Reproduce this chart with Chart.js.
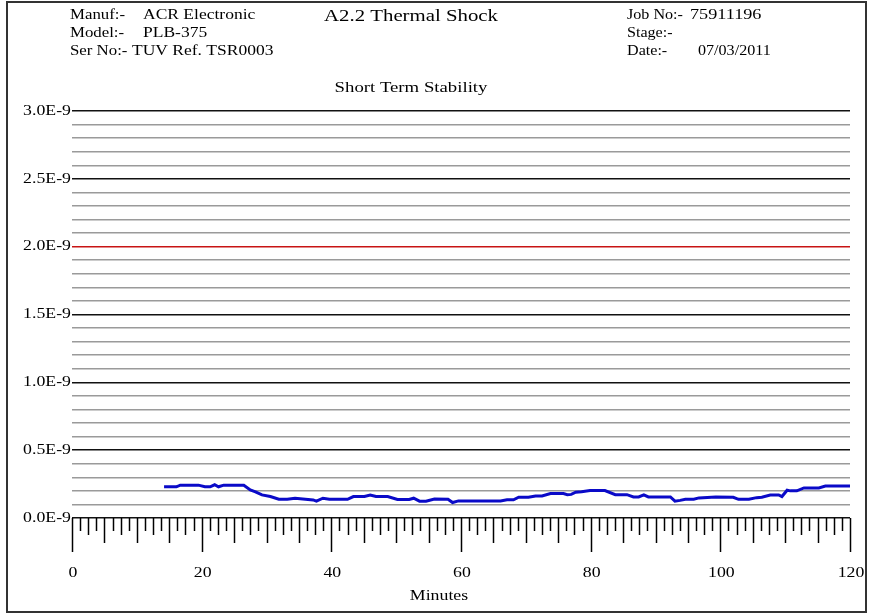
<!DOCTYPE html>
<html>
<head>
<meta charset="utf-8">
<script src="https://cdn.jsdelivr.net/npm/chart.js@4/dist/chart.umd.min.js"></script>
<style>
  html, body { margin: 0; padding: 0; background: #fff; }
  #wrap { width: 874px; height: 614px; }
</style>
</head>
<body>
<div id="wrap"><canvas id="chart" width="874" height="614"></canvas></div>
<script>
// minutes along the run and stability values (in units of 1E-9)
const minutes = [14.2, 16.1, 16.7, 19.5, 20.5, 21.3, 22.0, 22.6, 23.4, 26.5, 27.5, 28.3, 29.3, 30.6, 31.9, 33.2,
  34.4, 37.2, 37.7, 38.7, 39.7, 42.5, 43.4, 45.1, 46.0, 46.9, 48.7, 50.2, 52.0, 52.7, 53.6, 54.6, 55.9, 58.0,
  58.7, 59.6, 66.1, 67.1, 68.1, 68.9, 70.4, 71.5, 72.5, 73.8, 75.8, 76.4, 77.0, 77.7, 78.6, 79.9, 82.2, 83.8,
  85.6, 86.6, 87.4, 88.2, 88.9, 92.3, 93.0, 93.8, 94.6, 95.9, 96.7, 99.3, 102.0, 102.8, 104.4, 105.6, 106.4,
  107.7, 109.0, 109.5, 110.3, 110.8, 111.8, 112.9, 115.2, 116.2, 120];
const stability = [0.23, 0.23, 0.242, 0.242, 0.23, 0.23, 0.245, 0.23, 0.242, 0.242, 0.207, 0.193, 0.17, 0.158, 0.138, 0.138,
  0.145, 0.133, 0.124, 0.146, 0.138, 0.138, 0.158, 0.158, 0.17, 0.158, 0.158, 0.136, 0.136, 0.146, 0.124, 0.124, 0.14, 0.138,
  0.114, 0.126, 0.126, 0.134, 0.134, 0.153, 0.153, 0.162, 0.162, 0.18, 0.18, 0.172, 0.174, 0.19, 0.193, 0.202, 0.202, 0.172,
  0.172, 0.155, 0.155, 0.17, 0.155, 0.155, 0.124, 0.13, 0.138, 0.138, 0.148, 0.155, 0.153, 0.138, 0.138, 0.15, 0.153,
  0.17, 0.17, 0.158, 0.205, 0.2, 0.2, 0.222, 0.222, 0.235, 0.235];

const xLabels = [0, 20, 40, 60, 80, 100, 120];
const yLabels = ["0.0E-9", "0.5E-9", "1.0E-9", "1.5E-9", "2.0E-9", "2.5E-9", "3.0E-9"];
const limitLine = 2.0;

const headerLeft = [["Manuf:-", "ACR Electronic"], ["Model:-", "PLB-375"], ["Ser No:-", "TUV Ref. TSR0003"]];
const headerRight = [["Job No:-", "75911196"], ["Stage:-", ""], ["Date:-", "07/03/2011"]];

const SX = 1.27; // the original text is drawn wide
function txt(ctx, s, x, y, size, align, sx) {
  ctx.save();
  ctx.font = size + 'px "Liberation Serif", "Times New Roman", serif';
  ctx.fillStyle = "#000";
  ctx.textAlign = align;
  ctx.textBaseline = "middle";
  ctx.translate(x, y);
  ctx.scale(sx || SX, 1);
  ctx.fillText(s, 0, 0);
  ctx.restore();
}

const decor = {
  id: "decor",
  beforeDraw(chart) {
    const ctx = chart.ctx;
    ctx.save();
    ctx.fillStyle = "#fff";
    ctx.fillRect(0, 0, chart.width, chart.height);
    ctx.restore();
  },
  afterDraw(chart) {
    const ctx = chart.ctx;
    const x = chart.scales.x, y = chart.scales.y;
    const base = y.getPixelForValue(0);

    // x tick marks every 1.25 min
    ctx.save();
    ctx.strokeStyle = "#000";
    ctx.lineWidth = 1.5;
    for (let i = 0; i <= 96; i++) {
      const m = i * 1.25;
      const px = Math.round(x.getPixelForValue(m)) + 0.5;
      let len = 13;
      if (m % 20 === 0) len = 34;
      else if (m % 5 === 0) len = 25;
      else if (m % 2.5 === 0) len = 17;
      ctx.beginPath();
      ctx.moveTo(px, base);
      ctx.lineTo(px, base + len);
      ctx.stroke();
    }
    ctx.restore();

    xLabels.forEach(v => txt(ctx, String(v), x.getPixelForValue(v) + 1, 573, 14, "center"));
    yLabels.forEach((s, i) => txt(ctx, s, x.left - 1, y.getPixelForValue(i * 0.5), 14, "right"));
    txt(ctx, "Minutes", 439, 596, 14, "center");

    // header
    headerLeft.forEach((r, i) => {
      txt(ctx, r[0], 70, 15 + i * 18, 14, "left", 1.2);
      txt(ctx, r[1], i === 2 ? 132 : 143, 15 + i * 18, 14, "left", 1.25);
    });
    headerRight.forEach((r, i) => {
      txt(ctx, r[0], 627, 15 + i * 18, 14, "left", 1.15);
      txt(ctx, r[1], i === 2 ? 698 : 690, 15 + i * 18, 14, "left", i === 2 ? 1.15 : 1.3);
    });
    txt(ctx, "A2.2 Thermal Shock", 411, 17, 16, "center", 1.3);
    txt(ctx, "Short Term Stability", 411, 88, 15, "center", 1.25);

    // outer frame
    ctx.save();
    ctx.strokeStyle = "#333";
    ctx.lineWidth = 2;
    ctx.strokeRect(7, 2, 859, 610);
    ctx.restore();
  }
};

new Chart(document.getElementById("chart"), {
  type: "line",
  data: {
    datasets: [{
      data: minutes.map((m, i) => ({ x: m, y: stability[i] })),
      borderColor: "#0a0ac8",
      borderWidth: 3,
      pointRadius: 0,
      tension: 0,
      fill: false
    }]
  },
  options: {
    responsive: false,
    animation: false,
    devicePixelRatio: 1,
    layout: { padding: { left: 72, right: 24, top: 111, bottom: 96 } },
    plugins: { legend: { display: false }, tooltip: { enabled: false } },
    scales: {
      x: {
        type: "linear", min: 0, max: 120,
        ticks: { display: false },
        grid: { display: false },
        border: { display: false },
        afterFit: s => { s.height = 0; }
      },
      y: {
        type: "linear", min: 0, max: 3,
        ticks: { display: false, stepSize: 0.1, maxTicksLimit: 100 },
        grid: {
          drawTicks: false,
          color: c => {
            const k = Math.round(c.tick.value * 10);
            if (k === limitLine * 10) return "#c81414";
            return k % 5 === 0 ? "#111" : "#9a9a9a";
          },
          lineWidth: 1.5
        },
        border: { display: false },
        afterFit: s => { s.width = 0; }
      }
    }
  },
  plugins: [decor]
});
</script>
</body>
</html>
